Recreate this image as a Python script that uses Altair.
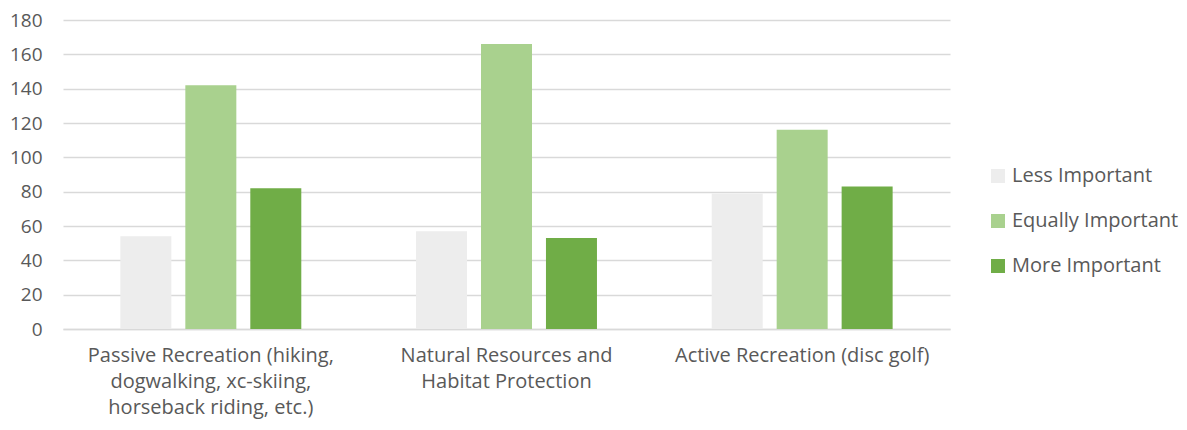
import altair as alt
import pandas as pd

categories = [
    "Passive Recreation (hiking,\ndogwalking, xc-skiing,\nhorseback riding, etc.)",
    "Natural Resources and\nHabitat Protection",
    "Active Recreation (disc golf)",
]
series = ["Less Important", "Equally Important", "More Important"]
less_important = [54, 57, 79]
equally_important = [142, 166, 116]
more_important = [82, 53, 83]
colors = ["#ededed", "#a9d18e", "#70ad47"]
y_ticks = [0, 20, 40, 60, 80, 100, 120, 140, 160, 180]

rows = []
for s, vals in zip(series, [less_important, equally_important, more_important]):
    for c, v in zip(categories, vals):
        rows.append({"category": c, "series": s, "value": v})
df = pd.DataFrame(rows)

FONT = "Open Sans"
TXT = "#595959"
FS = 20

chart = alt.Chart(df).mark_bar().encode(
    x=alt.X("category:N", sort=categories, title=None,
            scale=alt.Scale(paddingInner=0, paddingOuter=0),
            axis=alt.Axis(labelAngle=0, labelExpr="split(datum.label, '\\n')",
                          labelLineHeight=26, labelPadding=16, ticks=False, tickSize=0,
                          domainColor="#d9d9d9", domainWidth=1.5,
                          labelFontSize=FS, labelFont=FONT, labelColor=TXT, labelLimit=400)),
    xOffset=alt.XOffset("series:N", sort=series,
                        scale=alt.Scale(paddingInner=0.215, paddingOuter=0.883)),
    y=alt.Y("value:Q", title=None,
            scale=alt.Scale(domain=[0, 180], nice=False),
            axis=alt.Axis(values=y_ticks, ticks=False, tickSize=0, domain=False,
                          gridColor="#d9d9d9", gridWidth=1.5, labelPadding=21,
                          labelFontSize=19, labelFont=FONT, labelColor=TXT)),
    color=alt.Color("series:N", sort=series,
                    scale=alt.Scale(domain=series, range=colors),
                    legend=alt.Legend(title=None, orient="none", legendX=925, legendY=146,
                                      symbolType="square", symbolSize=196,
                                      symbolStrokeWidth=0, rowPadding=25, padding=0,
                                      labelFontSize=FS, labelFont=FONT, labelColor=TXT,
                                      labelOffset=4, labelLimit=300)),
).properties(
    width=887, height=309,
    autosize=alt.AutoSizeParams(type="none"),
    padding={"left": 55, "top": 12, "right": 229, "bottom": 92},
).configure_view(stroke=None)

chart.save("out.html", embed_options={"renderer": "svg", "actions": False})
